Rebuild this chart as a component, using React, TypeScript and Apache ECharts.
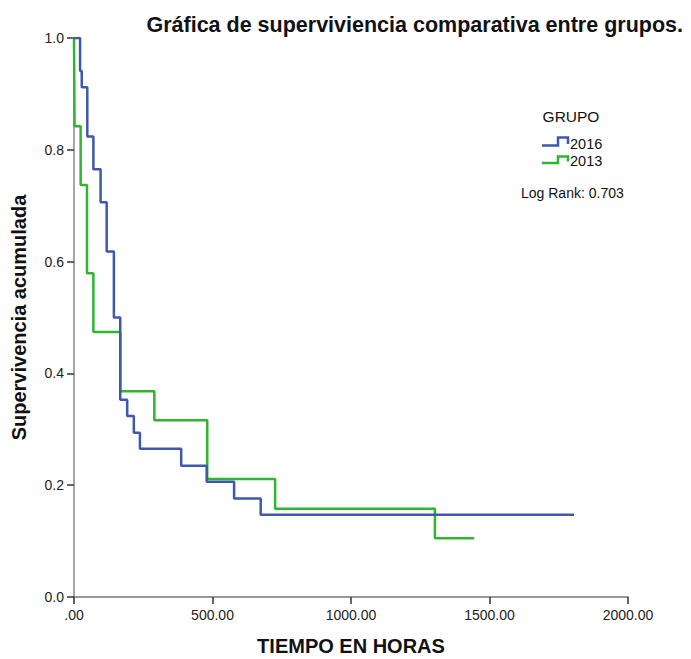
import React, { useEffect, useRef } from "react";
import * as echarts from "echarts";

// Kaplan-Meier estimates: [time in hours, cumulative survival]
const grupo2016: [number, number][] = [
  [0, 1.0], [22, 0.941], [28, 0.912], [48, 0.824], [70, 0.765], [96, 0.706],
  [118, 0.618], [144, 0.5], [167, 0.353], [192, 0.324], [216, 0.294],
  [238, 0.265], [387, 0.235], [479, 0.206], [578, 0.176], [674, 0.147],
  [1805, 0.147],
];
const grupo2013: [number, number][] = [
  [0, 1.0], [2, 0.842], [24, 0.737], [47, 0.579], [70, 0.474], [167, 0.368],
  [290, 0.316], [481, 0.211], [726, 0.158], [1303, 0.105], [1445, 0.105],
];
const groupNames = ["2016", "2013"];
const groupColors = ["#3e58ac", "#2fb52f"];
const logRankText = "Log Rank: 0.703";

const FONT = "'Liberation Sans', Arial, Helvetica, sans-serif";

export default function App() {
  const ref = useRef<HTMLDivElement>(null);

  useEffect(() => {
    if (!ref.current) return;
    const chart = echarts.init(ref.current, undefined, { renderer: "svg" });

    const legendItems: any[] = [];
    const iconY = [[145.5, 137.5], [163, 156.5]];
    const textY = [143.5, 161];
    groupNames.forEach((name, i) => {
      const [lo, hi] = iconY[i];
      legendItems.push({
        type: "polyline",
        shape: { points: [[542, lo], [558, lo], [558, hi], [568, hi], [568, lo - 1.5]] },
        style: { stroke: groupColors[i], lineWidth: 2.5, fill: "none" },
      });
      legendItems.push({
        type: "text",
        x: 570,
        y: textY[i],
        style: {
          text: name, fontSize: 14.5, fontFamily: FONT, fill: "#111",
          textVerticalAlign: "middle", verticalAlign: "middle",
        },
      });
    });

    chart.setOption({
      animation: false,
      backgroundColor: "#ffffff",
      title: {
        text: "Gráfica de superviviencia comparativa entre grupos.",
        right: 3,
        top: 9,
        textStyle: { fontSize: 21.5, fontWeight: "bold", fontFamily: FONT, color: "#111" },
      },
      grid: {
        left: 74, right: 63, top: 38, bottom: 62,
        containLabel: false, outerBoundsMode: "none",
      },
      xAxis: {
        type: "value",
        min: 0,
        max: 2000,
        interval: 500,
        name: "TIEMPO EN HORAS",
        nameLocation: "middle",
        nameGap: 39,
        nameTextStyle: { fontSize: 20, fontWeight: "bold", fontFamily: FONT, color: "#111" },
        axisLine: { show: true, lineStyle: { color: "#777", width: 1.5 } },
        axisTick: { show: true, length: 7, lineStyle: { color: "#333", width: 1.5 } },
        axisLabel: {
          margin: 11,
          fontSize: 14,
          fontFamily: FONT,
          color: "#222",
          formatter: (v: number) => (v === 0 ? ".00" : v.toFixed(2)),
        },
        splitLine: { show: false },
      },
      yAxis: {
        type: "value",
        min: 0,
        max: 1,
        interval: 0.2,
        name: "Supervivencia acumulada",
        nameLocation: "middle",
        nameGap: 45,
        nameTextStyle: { fontSize: 20, fontWeight: "bold", fontFamily: FONT, color: "#111" },
        axisLine: { show: true, lineStyle: { color: "#888", width: 1.5 } },
        axisTick: { show: true, length: 7, lineStyle: { color: "#333", width: 1.5 } },
        axisLabel: {
          margin: 10,
          fontSize: 14,
          fontFamily: FONT,
          color: "#222",
          formatter: (v: number) => v.toFixed(1),
        },
        splitLine: { show: false },
      },
      series: [
        {
          name: groupNames[0],
          type: "line",
          step: "end",
          data: grupo2016,
          showSymbol: false,
          lineStyle: { color: groupColors[0], width: 2.5 },
          itemStyle: { color: groupColors[0] },
          z: 3,
        },
        {
          name: groupNames[1],
          type: "line",
          step: "end",
          data: grupo2013,
          showSymbol: false,
          lineStyle: { color: groupColors[1], width: 2.5 },
          itemStyle: { color: groupColors[1] },
          z: 2,
        },
      ],
      graphic: [
        {
          type: "text",
          x: 571,
          y: 116,
          style: {
            text: "GRUPO", fontSize: 15.5, fontFamily: FONT, fill: "#111",
            align: "center", textAlign: "center", verticalAlign: "middle", textVerticalAlign: "middle",
          },
        },
        ...legendItems,
        {
          type: "text",
          x: 521,
          y: 193,
          style: {
            text: logRankText, fontSize: 14, fontFamily: FONT, fill: "#111",
            verticalAlign: "middle", textVerticalAlign: "middle",
          },
        },
      ],
    });

    return () => chart.dispose();
  }, []);

  return (
    <div
      ref={ref}
      style={{ position: "fixed", left: 0, top: 0, width: 691, height: 659 }}
    />
  );
}
